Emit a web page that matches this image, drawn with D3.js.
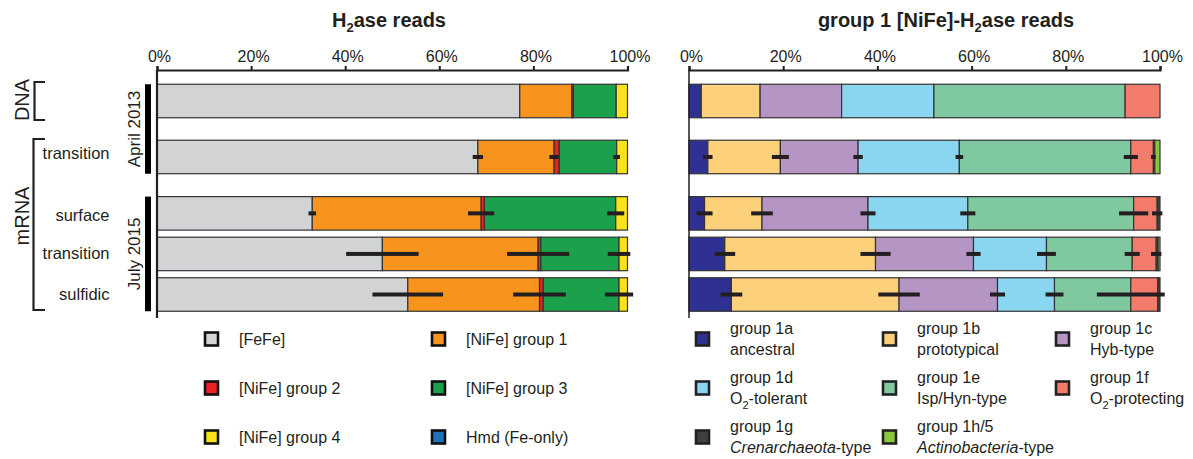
<!DOCTYPE html>
<html>
<head>
<meta charset="utf-8">
<script src="https://cdn.jsdelivr.net/npm/d3@7"></script>
<style>
  html, body { margin: 0; padding: 0; background: #fff; }
  svg { display: block; }
  text { font-family: Arial, "Liberation Sans", sans-serif; fill: #231f20; }
</style>
</head>
<body>
<svg id="chart" width="1193" height="459"></svg>
<script>
// Samples (rows, top to bottom)
const samples = ["DNA Apr 2013", "mRNA Apr 2013 transition", "mRNA Jul 2015 surface", "mRNA Jul 2015 transition", "mRNA Jul 2015 sulfidic"];
const rowLabels = ["", "transition", "surface", "transition", "sulfidic"];
const tickValues = [0, 20, 40, 60, 80, 100];

// Hydrogenase classes, % of H2ase reads
const feFe   = [77.1, 68.2, 33.0, 47.9, 53.3];
const nife1  = [11.1, 16.2, 35.9, 33.1, 28.0];
const nife2  = [0.3, 1.1, 0.7, 0.6, 0.8];
const nife3  = [9.1, 12.2, 27.9, 16.6, 16.1];
const nife4  = [2.4, 2.3, 2.5, 1.8, 1.8];
const hmd    = [0, 0, 0, 0, 0];
// standard deviations (%)
const errFeFe = [0, 1.1, 0.8, 7.7, 7.5];
const errNife1 = [0, 1.0, 2.8, 6.6, 5.6];
const errNife3 = [0, 0.7, 1.8, 2.4, 3.0];

// Group 1 [NiFe] subgroups, % of group 1 reads
const g1a = [2.6, 4.0, 3.3, 7.6, 9.0];
const g1b = [12.5, 15.4, 12.2, 32.0, 35.6];
const g1c = [17.3, 16.5, 22.5, 20.8, 20.9];
const g1d = [19.6, 21.5, 21.2, 15.5, 12.1];
const g1e = [40.6, 36.4, 35.2, 18.2, 16.2];
const g1f = [7.4, 4.8, 5.0, 5.1, 5.7];
const g1g = [0, 0.3, 0.6, 0.4, 0.5];
const g1h = [0, 1.1, 0, 0.4, 0];
const err1a = [0, 1.0, 1.7, 2.2, 2.3];
const err1b = [0, 1.8, 2.3, 3.2, 4.4];
const err1c = [0, 1.0, 1.6, 1.5, 1.6];
const err1d = [0, 0.8, 1.6, 2.0, 1.9];
const err1e = [0, 1.5, 3.1, 1.6, 7.2];
const err1f = [0, 0.5, 1.1, 1.1, 0];

const zeros = [0, 0, 0, 0, 0];

const leftSeries = [
  { key: "[FeFe]",           color: "#d1d3d4", values: feFe,  err: errFeFe },
  { key: "[NiFe] group 1",   color: "#f7941e", values: nife1, err: errNife1 },
  { key: "[NiFe] group 2",   color: "#ed2024", values: nife2, err: zeros },
  { key: "[NiFe] group 3",   color: "#1ba04b", values: nife3, err: errNife3 },
  { key: "[NiFe] group 4",   color: "#f9e11b", values: nife4, err: zeros },
  { key: "Hmd (Fe-only)",    color: "#1c75bc", values: hmd,   err: zeros }
];

const rightSeries = [
  { key: "1a", color: "#2e3192", values: g1a, err: err1a, l1: "group 1a", l2: [["ancestral", false]] },
  { key: "1b", color: "#fdd07b", values: g1b, err: err1b, l1: "group 1b", l2: [["prototypical", false]] },
  { key: "1c", color: "#b495c4", values: g1c, err: err1c, l1: "group 1c", l2: [["Hyb-type", false]] },
  { key: "1d", color: "#8ad5f0", values: g1d, err: err1d, l1: "group 1d", l2: [["O", false], ["2", "sub"], ["-tolerant", false]] },
  { key: "1e", color: "#80c9a0", values: g1e, err: err1e, l1: "group 1e", l2: [["Isp/Hyn-type", false]] },
  { key: "1f", color: "#f37b6c", values: g1f, err: err1f, l1: "group 1f", l2: [["O", false], ["2", "sub"], ["-protecting", false]] },
  { key: "1g", color: "#404040", values: g1g, err: zeros, l1: "group 1g", l2: [["Crenarchaeota", true], ["-type", false]] },
  { key: "1h", color: "#8cc63e", values: g1h, err: zeros, l1: "group 1h/5", l2: [["Actinobacteria", true], ["-type", false]] }
];

const svg = d3.select("#chart");
const ink = "#231f20";

// vertical placement of rows (DNA, gap, mRNA April, gap, mRNA July x3)
const rowSlot = [0, 1.38, 2.77, 3.77, 4.77];
const y = d3.scaleLinear().domain([0, 4.77]).range([101, 294.5]);
const barH = 33.5;

function drawPanel(series, x0, x1, title, titleX) {
  const g = svg.append("g");
  const x = d3.scaleLinear().domain([0, 100]).range([x0, x1]);

  const table = samples.map((s, i) => {
    const row = { sample: s, i };
    series.forEach(se => { row[se.key] = se.values[i]; });
    return row;
  });
  const stack = d3.stack().keys(series.map(s => s.key))(table);

  // bar segments
  stack.forEach((layer, li) => {
    g.append("g").selectAll("rect")
      .data(layer.filter(d => d[1] - d[0] > 0))
      .join("rect")
      .attr("x", d => x(d[0]))
      .attr("width", d => x(d[1]) - x(d[0]))
      .attr("y", d => y(rowSlot[d.data.i]) - barH / 2)
      .attr("height", barH)
      .attr("fill", series[li].color)
      .attr("stroke", "#333")
      .attr("stroke-width", 1.2);
  });

  // error bars at the cumulative end of each segment
  stack.forEach((layer, li) => {
    const err = series[li].err;
    g.append("g").selectAll("rect")
      .data(layer.filter(d => err[d.data.i] > 0))
      .join("rect")
      .attr("x", d => x(d[1] - err[d.data.i]))
      .attr("width", d => x(d[1] + err[d.data.i]) - x(d[1] - err[d.data.i]))
      .attr("y", d => y(rowSlot[d.data.i]) - 2)
      .attr("height", 4)
      .attr("fill", ink);
  });

  // top axis
  const ax = g.append("g")
    .attr("transform", "translate(0,70)")
    .call(d3.axisTop(x).tickValues(tickValues).tickFormat(d => d + "%")
      .tickSizeInner(4).tickSizeOuter(4).tickPadding(4));
  ax.select(".domain").attr("stroke", ink).attr("stroke-width", 2.2);
  ax.selectAll(".tick line").attr("stroke", ink).attr("stroke-width", 2);
  ax.selectAll(".tick text")
    .attr("font-size", 16)
    .attr("font-family", "Arial, 'Liberation Sans', sans-serif")
    .attr("fill", ink)
    .attr("dx", 2);

  // left baseline
  g.append("line")
    .attr("x1", x(0)).attr("x2", x(0))
    .attr("y1", 70).attr("y2", 318)
    .attr("stroke", ink).attr("stroke-width", x0 < 300 ? 2.2 : 1.5);

  // title with subscript
  const t = g.append("text")
    .attr("x", titleX).attr("y", 26.5)
    .attr("text-anchor", "middle")
    .attr("font-size", 20).attr("font-weight", "bold");
  const parts = title;
  parts.forEach(([str, sub]) => {
    const ts = t.append("tspan").text(str);
    if (sub) ts.attr("font-size", 13).attr("dy", 5);
    else if (t.selectAll("tspan").size() > 1) ts.attr("dy", -5);
  });
  return x;
}

drawPanel(leftSeries, 157, 627.5, [["H", false], ["2", true], ["ase reads", false]], 389);
drawPanel(rightSeries, 689, 1160, [["group 1 [NiFe]-H", false], ["2", true], ["ase reads", false]], 946);

// sample annotations on the left
const lab = svg.append("g");
rowLabels.forEach((s, i) => {
  if (!s) return;
  lab.append("text")
    .attr("x", 109.5).attr("y", y(rowSlot[i]) + (i === 1 ? 2.5 : i === 2 ? 8 : 5))
    .attr("text-anchor", "end").attr("font-size", 16.5).text(s);
});

// sampling campaign bars
const campaigns = [
  { name: "April 2013", from: 0, to: 1 },
  { name: "July 2015", from: 2, to: 4 }
];
campaigns.forEach(c => {
  const top = y(rowSlot[c.from]) - barH / 2, bot = y(rowSlot[c.to]) + barH / 2;
  lab.append("rect").attr("x", 145).attr("width", 6)
    .attr("y", top).attr("height", bot - top).attr("fill", "#000");
  lab.append("text")
    .attr("transform", `translate(140,${(top + bot) / 2}) rotate(-90)`)
    .attr("text-anchor", "middle").attr("font-size", 17).text(c.name);
});

// nucleic acid brackets
const brackets = [
  { name: "DNA", top: y(rowSlot[0]) - 19, bot: y(rowSlot[0]) + 19, x: 34.5 },
  { name: "mRNA", top: y(rowSlot[1]) - 18, bot: y(rowSlot[4]) + 15.5, x: 33.5 }
];
brackets.forEach(b => {
  lab.append("path")
    .attr("d", `M45,${b.top}H${b.x}V${b.bot}H45`)
    .attr("fill", "none").attr("stroke", ink).attr("stroke-width", 2.2);
  lab.append("text")
    .attr("transform", `translate(28.5,${b.name === "DNA" ? 100 : 216}) rotate(-90)`)
    .attr("text-anchor", "middle").attr("font-size", 20).text(b.name);
});

// legend, left panel
const legL = svg.append("g");
const legLCols = [204, 431];
const legRows = [339, 388, 437];
leftSeries.forEach((s, i) => {
  const cx = legLCols[i % 2], cy = legRows[Math.floor(i / 2)];
  legL.append("rect").attr("x", cx + 1).attr("y", cy - 6.5).attr("width", 13).attr("height", 13)
    .attr("fill", s.color).attr("stroke", "#111").attr("stroke-width", 2.6);
  legL.append("text").attr("x", cx + 35).attr("y", cy + 5.5)
    .attr("font-size", 16).text(s.key);
});

// legend, right panel
const legR = svg.append("g");
const legRCols = [695, 882, 1055];
rightSeries.forEach((s, i) => {
  const cx = legRCols[i % 3], cy = legRows[Math.floor(i / 3)];
  legR.append("rect").attr("x", cx + 1).attr("y", cy - 6.5).attr("width", 13).attr("height", 13)
    .attr("fill", s.color).attr("stroke", "#222").attr("stroke-width", 2.6);
  const tx = cx + 35;
  legR.append("text").attr("x", tx).attr("y", cy - 5).attr("font-size", 16).text(s.l1);
  const t2 = legR.append("text").attr("x", tx).attr("y", cy + 15.5).attr("font-size", 16);
  let lowered = false;
  s.l2.forEach(([str, kind]) => {
    const ts = t2.append("tspan").text(str);
    if (kind === "sub") { ts.attr("font-size", 11).attr("dy", 5); lowered = true; }
    else {
      if (lowered) { ts.attr("dy", -5); lowered = false; }
      if (kind === true) ts.attr("font-style", "italic");
    }
  });
});
</script>
</body>
</html>
